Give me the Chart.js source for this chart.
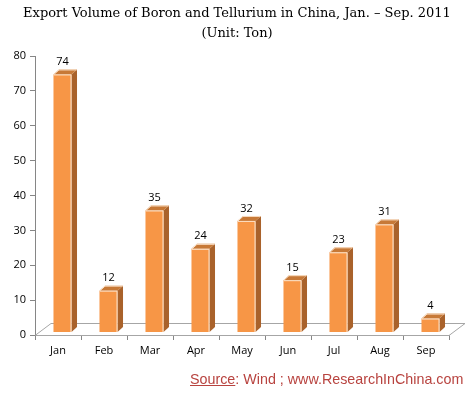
<!DOCTYPE html>
<html>
<head>
<meta charset="utf-8">
<script src="https://cdn.jsdelivr.net/npm/chart.js@4/dist/chart.umd.min.js"></script>
<style>
  html, body { margin: 0; padding: 0; background: #fff; }
  #wrap { position: relative; width: 474px; height: 394px; }
  #c { position: absolute; left: 0; top: 0; }
  .title { position: absolute; left: 0; width: 474px; text-align: center; font-family: "DejaVu Serif", serif; font-size: 13px; color: #000; white-space: nowrap; }
  #src { position: absolute; left: 190px; top: 371px; font-family: "Liberation Sans", sans-serif; font-size: 14.3px; color: #B8433F; white-space: nowrap; }
  #src u { text-decoration: underline; }
</style>
</head>
<body>
<div id="wrap">
  <canvas id="c" width="474" height="394"></canvas>
  <div class="title" style="top:5px">Export Volume of Boron and Tellurium in China, Jan. – Sep. 2011</div>
  <div class="title" style="top:25px">(Unit: Ton)</div>
  <div id="src"><u>Source</u>: Wind ; www.ResearchInChina.com</div>
</div>
<script>
const months = ["Jan", "Feb", "Mar", "Apr", "May", "Jun", "Jul", "Aug", "Sep"];
const exportTons = [74, 12, 35, 24, 32, 15, 23, 31, 4];
const yMin = 0, yMax = 80, yStep = 10;

const DX = 4.5, DY = -2.5;      // depth shift of the front faces
const SIDE_X = 5.5, SIDE_Y = 5; // 3D extrusion
const FLOOR_X = 16, FLOOR_Y = 12;

const bar3d = {
  id: 'bar3d',
  beforeDatasetsDraw(chart) {
    const ctx = chart.ctx, a = chart.chartArea;
    ctx.save();
    ctx.strokeStyle = '#A6A6A6';
    ctx.lineWidth = 1;
    ctx.beginPath();
    ctx.moveTo(a.left, a.bottom + 0.5);
    ctx.lineTo(a.left + FLOOR_X, a.bottom - FLOOR_Y + 0.5);
    ctx.lineTo(a.right + FLOOR_X, a.bottom - FLOOR_Y + 0.5);
    ctx.lineTo(a.right, a.bottom + 0.5);
    ctx.stroke();
    ctx.restore();
    ctx.save();
    ctx.translate(DX, DY);
  },
  afterDatasetsDraw(chart) {
    const ctx = chart.ctx;
    const meta = chart.getDatasetMeta(0);
    meta.data.forEach((bar, i) => {
      const w = bar.width, l = bar.x - w / 2, r = bar.x + w / 2, t = bar.y, b = bar.base;
      ctx.fillStyle = '#A9622B';
      ctx.beginPath();
      ctx.moveTo(r, t); ctx.lineTo(r + SIDE_X, t - SIDE_Y);
      ctx.lineTo(r + SIDE_X, b - SIDE_Y); ctx.lineTo(r, b); ctx.closePath(); ctx.fill();
      ctx.fillStyle = '#C77937';
      ctx.beginPath();
      ctx.moveTo(l, t); ctx.lineTo(l + SIDE_X, t - SIDE_Y);
      ctx.lineTo(r + SIDE_X, t - SIDE_Y); ctx.lineTo(r, t); ctx.closePath(); ctx.fill();
      ctx.strokeStyle = '#FCE4CC';
      ctx.lineWidth = 1;
      ctx.beginPath();
      ctx.moveTo(l + 0.5, t + 0.5); ctx.lineTo(r - 0.5, t + 0.5); ctx.lineTo(r - 0.5, b);
      ctx.stroke();
      ctx.beginPath();
      ctx.moveTo(l + 0.5, t); ctx.lineTo(l + SIDE_X, t - SIDE_Y + 0.5);
      ctx.lineTo(r + SIDE_X - 0.5, t - SIDE_Y + 0.5);
      ctx.stroke();
      ctx.fillStyle = '#000';
      ctx.font = '11px "Open Sans", sans-serif';
      ctx.textAlign = 'center';
      ctx.textBaseline = 'bottom';
      ctx.fillText(String(exportTons[i]), bar.x, t - SIDE_Y - 2);
    });
    ctx.restore();
  }
};

new Chart(document.getElementById('c'), {
  type: 'bar',
  data: {
    labels: months,
    datasets: [{
      data: exportTons,
      backgroundColor: '#F79646',
      borderWidth: 0,
      categoryPercentage: 0.8,
      barPercentage: 0.49
    }]
  },
  options: {
    responsive: false,
    animation: false,
    layout: { padding: { top: 56, right: 25, bottom: 29, left: 0 } },
    plugins: { legend: { display: false }, tooltip: { enabled: false }, title: { display: false } },
    scales: {
      x: {
        afterFit(s) { s.height = 30; },
        grid: { display: true, drawOnChartArea: false, drawTicks: true, tickLength: 5, color: '#868686', offset: true },
        border: { display: true, color: '#A6A6A6' },
        ticks: { color: '#000', font: { family: '"Open Sans", sans-serif', size: 11 }, padding: 4, maxRotation: 0 }
      },
      y: {
        min: yMin, max: yMax,
        afterFit(s) { s.width = 35; },
        grid: { display: true, drawOnChartArea: false, drawTicks: true, tickLength: 5, color: '#868686' },
        border: { display: true, color: '#868686' },
        ticks: { stepSize: yStep, color: '#000', font: { family: '"Open Sans", sans-serif', size: 11 }, padding: 4 }
      }
    }
  },
  plugins: [bar3d]
});
</script>
</body>
</html>
